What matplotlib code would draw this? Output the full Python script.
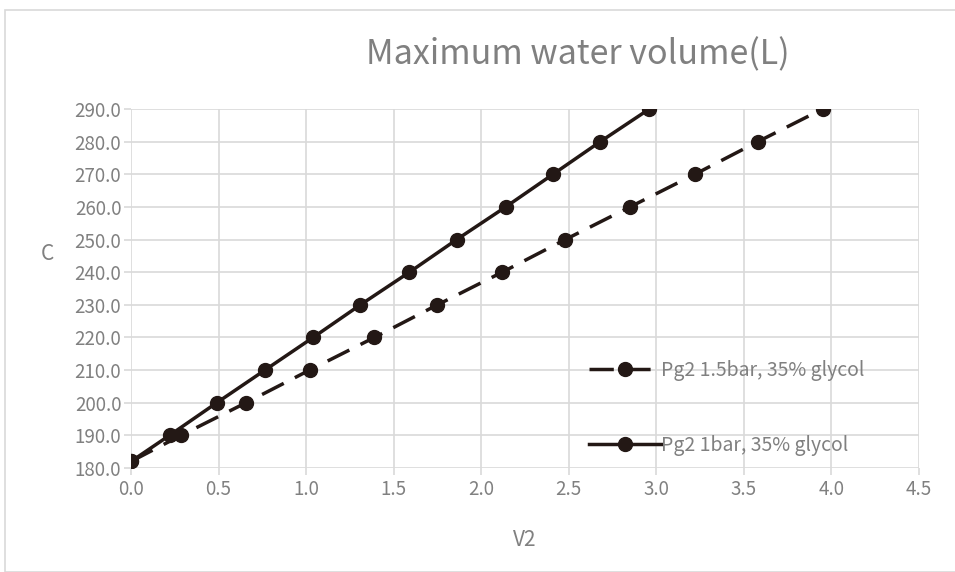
import numpy as np
import matplotlib.pyplot as plt
from matplotlib.patches import Rectangle

# datos
c_vals = [182, 190, 200, 210, 220, 230, 240, 250, 260, 270, 280, 290]
v2_1bar = [0.0, 0.22, 0.49, 0.765, 1.04, 1.31, 1.59, 1.86, 2.14, 2.41, 2.68, 2.96]
v2_15bar = [0.0, 0.286, 0.657, 1.02, 1.39, 1.75, 2.12, 2.48, 2.85, 3.22, 3.58, 3.95]
label_15 = "Pg2 1.5bar, 35% glycol"
label_1 = "Pg2 1bar, 35% glycol"

plt.rcParams['font.family'] = ['Noto Sans CJK SC', 'DejaVu Sans']
plt.rcParams['font.weight'] = 'light'
grey = '#808080'
dark = '#231815'

fig = plt.figure(figsize=(9.55, 5.72), dpi=100)
ax = fig.add_axes([131/955, 1-468/572, (919-131)/955, (468-109)/572])

# borde del area del grafico
fig.patches.append(Rectangle((5/955, 0), 1, 1-10/572, transform=fig.transFigure,
                             fill=False, edgecolor='#d9d9d9', linewidth=1.2))

l15, = ax.plot(v2_15bar, c_vals, color=dark, lw=2.5, marker='o', ms=10,
               dashes=(7, 3.6), label=label_15)
l1, = ax.plot(v2_1bar, c_vals, color=dark, lw=2.5, marker='o', ms=10,
              label=label_1)

ax.set_xlim(0, 4.5)
ax.set_ylim(180, 290)
ax.set_xticks(np.arange(0, 4.51, 0.5))
ax.set_yticks(np.arange(180, 290.1, 10))
ax.set_xticklabels([f"{v:.1f}" for v in np.arange(0, 4.51, 0.5)])
ax.set_yticklabels([f"{v:.1f}" for v in np.arange(180, 290.1, 10)])
ax.grid(True, color='#d9d9d9', lw=1.2)
ax.set_axisbelow(True)
for s in ax.spines.values():
    s.set_visible(False)
ax.tick_params(colors='#d9d9d9', labelcolor=grey, labelsize=13.5, length=5, width=1.2)
ax.tick_params(axis='y', pad=2)
ax.tick_params(axis='x', pad=3)

fig.text(578/955, 1-55/572, "Maximum water volume(L)", fontsize=24.5, color=grey,
         ha='center', va='center')
fig.text(47/955, 1-254/572, "C", fontsize=15, color=grey, ha='center', va='center')
fig.text(525/955, 1-540/572, "V2", fontsize=15, color=grey, ha='center', va='center')

leg = ax.legend(handles=[l15, l1], loc='lower right', bbox_to_anchor=(0.953, -0.014),
                frameon=False, fontsize=14, handlelength=3.7, handletextpad=0.0,
                labelspacing=2.75, labelcolor=grey)

fig.savefig("out.png", dpi=100)
